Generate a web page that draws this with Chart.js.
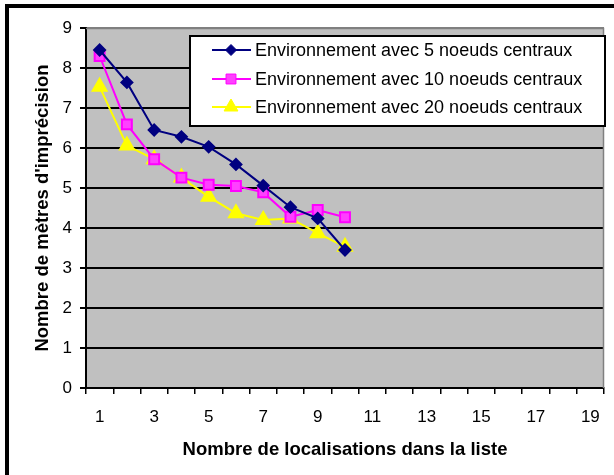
<!DOCTYPE html>
<html>
<head>
<meta charset="utf-8">
<script src="https://cdn.jsdelivr.net/npm/chart.js@4/dist/chart.umd.min.js"></script>
<style>
  html, body { margin: 0; padding: 0; background: #fff; overflow: hidden; }
  #frame { position: absolute; left: 5px; top: 4px; width: 700px; height: 600px; border: 4px solid #000; }
  #wrap { position: absolute; left: 0; top: 0; width: 614px; height: 475px; }
</style>
</head>
<body>
<div id="frame"></div>
<div id="wrap"><canvas id="c"></canvas></div>
<script>
// categories (nombre de localisations)
const categories = ['1','2','3','4','5','6','7','8','9','10','11','12','13','14','15','16','17','18','19'];
// séries
const env5  = [8.45, 7.64, 6.45, 6.28, 6.03, 5.59, 5.06, 4.52, 4.24, 3.45];
const env10 = [8.30, 6.59, 5.72, 5.26, 5.08, 5.05, 4.89, 4.28, 4.45, 4.27];
const env20 = [7.53, 6.06, 5.72, 5.26, 4.78, 4.37, 4.20, 4.24, 3.87, 3.53];
const seriesNames = [
    'Environnement avec 5 noeuds centraux',
    'Environnement avec 10 noeuds centraux',
    'Environnement avec 20 noeuds centraux'
];
const yTicks = [0, 1, 2, 3, 4, 5, 6, 7, 8, 9];

const FONT = "'Liberation Sans', Arial, sans-serif";

// fond gris + bord du cadre de tracé
const plotArea = {
    id: 'plotArea',
    beforeDraw(chart) {
        const { ctx, chartArea: a } = chart;
        ctx.save();
        ctx.fillStyle = '#c0c0c0';
        ctx.fillRect(a.left, a.top, a.right - a.left, a.bottom - a.top);
        ctx.restore();
    },
    beforeDatasetsDraw(chart) {
        const { ctx, chartArea: a } = chart;
        ctx.save();
        ctx.strokeStyle = '#808080';
        ctx.lineWidth = 1.5;
        ctx.beginPath();
        ctx.moveTo(a.left, a.top + 0.5);
        ctx.lineTo(a.right - 0.5, a.top + 0.5);
        ctx.lineTo(a.right - 0.5, a.bottom);
        ctx.stroke();
        ctx.restore();
    }
};

function marker(ctx, style, x, y, r) {
    ctx.beginPath();
    if (style === 'rectRot') {
        ctx.moveTo(x, y - r); ctx.lineTo(x + r, y); ctx.lineTo(x, y + r); ctx.lineTo(x - r, y);
    } else if (style === 'rect') {
        const s = r * Math.SQRT1_2;
        ctx.rect(x - s, y - s, 2 * s, 2 * s);
    } else {
        ctx.moveTo(x, y - r); ctx.lineTo(x + r * 0.866, y + r * 0.5); ctx.lineTo(x - r * 0.866, y + r * 0.5);
    }
    ctx.closePath();
    ctx.fill();
    ctx.stroke();
}

// légende encadrée dans la zone de tracé
const boxLegend = {
    id: 'boxLegend',
    afterDatasetsDraw(chart) {
        const { ctx } = chart;
        ctx.save();
        ctx.fillStyle = '#fff';
        ctx.fillRect(190, 36, 415, 90);
        ctx.strokeStyle = '#000';
        ctx.lineWidth = 2;
        ctx.strokeRect(190, 36, 415, 90);
        const rows = [50, 79, 107];
        chart.data.datasets.forEach((ds, i) => {
            const y = rows[i];
            ctx.strokeStyle = ds.borderColor;
            ctx.lineWidth = 2;
            ctx.beginPath();
            ctx.moveTo(212, y);
            ctx.lineTo(251, y);
            ctx.stroke();
            ctx.fillStyle = ds.pointBackgroundColor;
            ctx.strokeStyle = ds.pointBorderColor;
            ctx.lineWidth = 1;
            marker(ctx, ds.pointStyle, 231, y, ds.pointRadius);
            ctx.fillStyle = '#000';
            ctx.font = '18px ' + FONT;
            ctx.textBaseline = 'middle';
            ctx.textAlign = 'left';
            ctx.fillText(ds.label, 255, y + 1);
        });
        ctx.restore();
    }
};

new Chart(document.getElementById('c'), {
    type: 'line',
    data: {
        labels: categories,
        datasets: [
            {
                label: seriesNames[0], data: env5,
                borderColor: '#000080', borderWidth: 2,
                pointStyle: 'rectRot', pointRadius: 5.5,
                pointBackgroundColor: '#000080', pointBorderColor: '#000080',
                tension: 0
            },
            {
                label: seriesNames[1], data: env10,
                borderColor: '#ff00ff', borderWidth: 2,
                pointStyle: 'rect', pointRadius: 7,
                pointBackgroundColor: '#ff40ff', pointBorderColor: '#ff00ff',
                tension: 0
            },
            {
                label: seriesNames[2], data: env20,
                borderColor: '#ffff00', borderWidth: 2,
                pointStyle: 'triangle', pointRadius: 8,
                pointBackgroundColor: '#ffff00', pointBorderColor: '#ffff00',
                tension: 0
            }
        ]
    },
    options: {
        responsive: true,
        maintainAspectRatio: false,
        animation: false,
        layout: { padding: { left: 0, top: 28, right: 6, bottom: 0 } },
        plugins: {
            legend: { display: false },
            tooltip: { enabled: false }
        },
        scales: {
            x: {
                offset: true,
                afterFit(scale) { scale.height = 87; },
                grid: {
                    offset: true, drawOnChartArea: false, drawTicks: true,
                    tickLength: 6, color: '#000', lineWidth: 1.5
                },
                border: { color: '#000', width: 2 },
                ticks: {
                    autoSkip: false, maxRotation: 0, padding: 13,
                    color: '#000', font: { family: FONT, size: 17 },
                    callback: (v, i) => (i % 2 === 0 ? categories[i] : '')
                },
                title: {
                    display: true, text: 'Nombre de localisations dans la liste',
                    color: '#000', font: { family: FONT, size: 18.5, weight: 'bold' },
                    padding: { top: 0, bottom: 14 }
                }
            },
            y: {
                min: yTicks[0], max: yTicks[yTicks.length - 1],
                afterFit(scale) { scale.width = 86; },
                afterBuildTicks(scale) { scale.ticks = yTicks.map(v => ({ value: v })); },
                grid: {
                    color: (c) => (c.tick && c.tick.value === 9 ? '#808080' : '#000'),
                    tickColor: '#000', lineWidth: 2, tickLength: 6
                },
                border: { color: '#000', width: 2 },
                ticks: {
                    padding: 8, color: '#000', font: { family: FONT, size: 17 }
                },
                title: {
                    display: true, text: "Nombre de mètres d'imprécision",
                    color: '#000', font: { family: FONT, size: 18.5, weight: 'bold' },
                    padding: { top: 32, bottom: 0 }
                }
            }
        }
    },
    plugins: [plotArea, boxLegend]
});
</script>
</body>
</html>
